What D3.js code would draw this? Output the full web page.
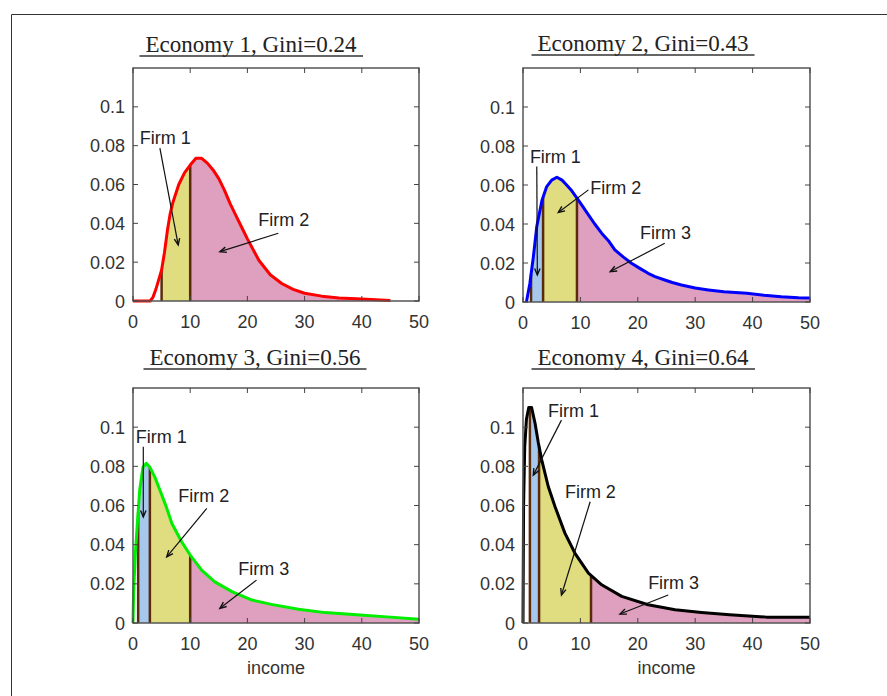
<!DOCTYPE html>
<html><head><meta charset="utf-8">
<script src="https://cdn.jsdelivr.net/npm/d3@7"></script>
<style>body{margin:0;background:#fff} svg{display:block}</style>
</head><body><svg id="c" width="887" height="696"></svg>
<script>
// ---------- data ----------
const titles = ["Economy 1, Gini=0.24", "Economy 2, Gini=0.43", "Economy 3, Gini=0.56", "Economy 4, Gini=0.64"];
const xTicks = [0, 10, 20, 30, 40, 50];
const yTicks = [0, 0.02, 0.04, 0.06, 0.08, 0.1];
const yTickLabels = ["0", "0.02", "0.04", "0.06", "0.08", "0.1"];
const xLabel = "income";

const income1 = [0,3,3.5,4,4.5,5,5.5,6,6.5,7,8,9,10,11,12,13,14,15,16,17,18,19,20,22,24,26,28,30,33,36,40,45];
const density1 = [0,0,0.002,0.006,0.011,0.016,0.025,0.036,0.045,0.051,0.060,0.066,0.070,0.0735,0.0735,0.071,0.0675,0.063,0.057,0.050,0.044,0.038,0.032,0.021,0.0135,0.009,0.006,0.004,0.0025,0.0015,0.001,0.0003];
const income2 = [0.6,1.2,1.8,2.4,3.3,4.1,5,5.9,6.8,7.6,8.5,9.4,10.4,11.4,12.5,13.7,15,16,17.5,18.9,20.5,21.8,23,24.7,26,27.6,30,32.3,35,39,42,45,48,50];
const density2 = [0,0.0096,0.023,0.0387,0.052,0.059,0.0625,0.064,0.0625,0.060,0.057,0.0533,0.049,0.0447,0.040,0.0353,0.031,0.0267,0.023,0.0199,0.017,0.0147,0.013,0.0113,0.010,0.0087,0.0072,0.0062,0.0052,0.0045,0.0035,0.0027,0.0022,0.002];
const income3 = [0,0.1,0.41,0.76,1.17,1.75,2.33,2.92,3.8,4.95,5.82,6.8,8.5,10,12,14.3,17.3,20.8,24.2,28.9,33.6,39.7,45,50];
const density3 = [0,0.0151,0.0355,0.0508,0.0679,0.0797,0.0815,0.0797,0.0746,0.066,0.0593,0.0508,0.0415,0.0347,0.027,0.021,0.016,0.0117,0.0095,0.007,0.0053,0.0041,0.003,0.0019];
const income4 = [0,0.1,0.3,0.6,1.0,1.5,2.1,2.67,3.26,4.4,5.57,7.3,9.06,11.4,13.7,17.2,21.8,26.5,31.1,36,42.4,50];
const density4 = [0,0.06,0.09,0.104,0.110,0.110,0.102,0.092,0.0833,0.0697,0.0595,0.0459,0.0356,0.0255,0.0195,0.0136,0.0093,0.0068,0.0054,0.0042,0.003,0.003];

// firm boundaries (income cut points)
const bounds1 = [5, 10, 45];
const bounds2 = [1.4, 3.5, 9.4, 50];
const bounds3 = [0.9, 2.95, 10, 50];
const bounds4 = [1.2, 2.8, 11.85, 50];

// annotations: label, text position, arrow start, arrow end (data units)
const notes1 = [
  ["Firm 1", 1.2, 0.081, 4.7, 0.0787, 7.9, 0.0289],
  ["Firm 2", 21.9, 0.0387, 25.4, 0.0349, 15.2, 0.0254]
];
const notes2 = [
  ["Firm 1", 1.2, 0.0714, 2.4, 0.0695, 2.5, 0.0139],
  ["Firm 2", 11.7, 0.0555, 11.4, 0.0575, 6.15, 0.0459],
  ["Firm 3", 20.4, 0.0324, 24.7, 0.0301, 15.2, 0.0156]
];
const notes3 = [
  ["Firm 1", 0.5, 0.0918, 1.8, 0.090, 1.8, 0.0542],
  ["Firm 2", 7.9, 0.0617, 12.9, 0.0585, 5.9, 0.0338],
  ["Firm 3", 18.4, 0.0245, 21.6, 0.0219, 15.2, 0.0075]
];
const notes4 = [
  ["Firm 1", 4.35, 0.105, 6.7, 0.1036, 1.8, 0.0755],
  ["Firm 2", 7.3, 0.0638, 11.7, 0.0619, 6.7, 0.0143],
  ["Firm 3", 21.8, 0.0173, 25.3, 0.0143, 16.9, 0.0046]
];

// ---------- style / layout ----------
const lineColors = ["#ff0000", "#0000ff", "#00ee00", "#000000"];
const firmFills = ["#a6c8ec", "#e0dc80", "#dea0be"];
const boundaryColor = "#5a2a0a";
const panels = [
  {x0: 133, x1: 419, y0: 68, y1: 301, titleX: 251, titleY: 52, ul: 56, xl: false},
  {x0: 523, x1: 810, y0: 68, y1: 302, titleX: 643, titleY: 51, ul: 55, xl: false},
  {x0: 133, x1: 419, y0: 388, y1: 623, titleX: 255, titleY: 365, ul: 369, xl: true},
  {x0: 523, x1: 810, y0: 388, y1: 623, titleX: 643, titleY: 365, ul: 369, xl: true}
];
const series = [
  {inc: income1, den: density1, b: bounds1, notes: notes1},
  {inc: income2, den: density2, b: bounds2, notes: notes2},
  {inc: income3, den: density3, b: bounds3, notes: notes3},
  {inc: income4, den: density4, b: bounds4, notes: notes4}
];

const svg = d3.select("#c");
// outer frame
svg.append("path").attr("d", "M11.5,696 V14.5 H887").attr("fill", "none").attr("stroke", "#333").attr("stroke-width", 1);

const tickFont = "Liberation Sans, Arial, sans-serif";

function interp(inc, den, v) {
  const i = d3.bisectLeft(inc, v);
  if (i <= 0) return den[0];
  if (i >= inc.length) return den[den.length - 1];
  const t = (v - inc[i - 1]) / (inc[i] - inc[i - 1]);
  return den[i - 1] + t * (den[i] - den[i - 1]);
}

panels.forEach((p, k) => {
  const s = series[k];
  const x = d3.scaleLinear().domain([0, 50]).range([p.x0, p.x1]);
  const y = d3.scaleLinear().domain([0, 0.12]).range([p.y1, p.y0]);
  const g = svg.append("g");
  const pts = s.inc.map((v, i) => [v, s.den[i]]);

  // fills per firm
  const nSeg = s.b.length - 1;
  const fills = firmFills.slice(firmFills.length - nSeg);
  const area = d3.area().x(d => x(d[0])).y0(y(0)).y1(d => y(d[1]));
  for (let j = 0; j < nSeg; j++) {
    const id = "clip" + k + "_" + j;
    svg.append("clipPath").attr("id", id).append("rect")
      .attr("x", x(s.b[j])).attr("y", p.y0).attr("width", x(s.b[j + 1]) - x(s.b[j])).attr("height", p.y1 - p.y0);
    g.append("path").datum(pts).attr("d", area).attr("fill", fills[j]).attr("clip-path", `url(#${id})`);
  }
  // boundary lines (all but the last cut)
  s.b.slice(0, -1).forEach(bv => {
    g.append("line").attr("x1", x(bv)).attr("x2", x(bv)).attr("y1", y(0)).attr("y2", y(interp(s.inc, s.den, bv)))
      .attr("stroke", boundaryColor).attr("stroke-width", 2.5);
  });

  // curve
  g.append("path").datum(pts).attr("d", d3.line().x(d => x(d[0])).y(d => y(d[1])))
    .attr("fill", "none").attr("stroke", lineColors[k]).attr("stroke-width", 3).attr("stroke-linejoin", "round");

  // box
  g.append("rect").attr("x", p.x0).attr("y", p.y0).attr("width", p.x1 - p.x0).attr("height", p.y1 - p.y0)
    .attr("fill", "none").attr("stroke", "#555").attr("stroke-width", 1.5);
  // ticks inside, all four sides
  const tl = 5;
  xTicks.forEach(t => {
    g.append("line").attr("x1", x(t)).attr("x2", x(t)).attr("y1", p.y1).attr("y2", p.y1 - tl).attr("stroke", "#444");
    g.append("line").attr("x1", x(t)).attr("x2", x(t)).attr("y1", p.y0).attr("y2", p.y0 + tl).attr("stroke", "#444");
    g.append("text").attr("x", x(t)).attr("y", p.y1 + 27).attr("text-anchor", "middle")
      .attr("font-family", tickFont).attr("font-size", 18).attr("fill", "#333").text(t);
  });
  yTicks.forEach((t, i) => {
    g.append("line").attr("x1", p.x0).attr("x2", p.x0 + tl).attr("y1", y(t)).attr("y2", y(t)).attr("stroke", "#444");
    g.append("line").attr("x1", p.x1).attr("x2", p.x1 - tl).attr("y1", y(t)).attr("y2", y(t)).attr("stroke", "#444");
    g.append("text").attr("x", p.x0 - 8).attr("y", y(t) + 6.5).attr("text-anchor", "end")
      .attr("font-family", tickFont).attr("font-size", 18).attr("fill", "#333").text(yTickLabels[i]);
  });

  // annotations
  s.notes.forEach(n => {
    g.append("text").attr("x", x(n[1])).attr("y", y(n[2])).attr("font-family", tickFont)
      .attr("font-size", 18).attr("fill", "#222").text(n[0]);
    const ax1 = x(n[3]), ay1 = y(n[4]), ax2 = x(n[5]), ay2 = y(n[6]);
    g.append("line").attr("x1", ax1).attr("y1", ay1).attr("x2", ax2).attr("y2", ay2).attr("stroke", "#111").attr("stroke-width", 1.2);
    const ang = Math.atan2(ay2 - ay1, ax2 - ax1), L = 7, w = 0.4;
    const h1 = [ax2 - L * Math.cos(ang - w), ay2 - L * Math.sin(ang - w)];
    const h2 = [ax2 - L * Math.cos(ang + w), ay2 - L * Math.sin(ang + w)];
    g.append("path").attr("d", `M${h1[0]},${h1[1]} L${ax2},${ay2} L${h2[0]},${h2[1]}`)
      .attr("fill", "none").attr("stroke", "#111").attr("stroke-width", 1.4);
  });

  // title with underline
  const tt = svg.append("text").attr("x", p.titleX).attr("y", p.titleY).attr("text-anchor", "middle")
    .attr("font-family", "Liberation Serif, Times New Roman, serif").attr("font-size", 23).attr("fill", "#222").text(titles[k]);
  const bb = tt.node().getBBox();
  svg.append("line").attr("x1", bb.x - 6).attr("x2", bb.x + bb.width + 6).attr("y1", p.ul).attr("y2", p.ul)
    .attr("stroke", "#333").attr("stroke-width", 1.5);

  if (p.xl) {
    svg.append("text").attr("x", (p.x0 + p.x1) / 2).attr("y", p.y1 + 51).attr("text-anchor", "middle")
      .attr("font-family", tickFont).attr("font-size", 18).attr("fill", "#333").text(xLabel);
  }
});
</script></body></html>
